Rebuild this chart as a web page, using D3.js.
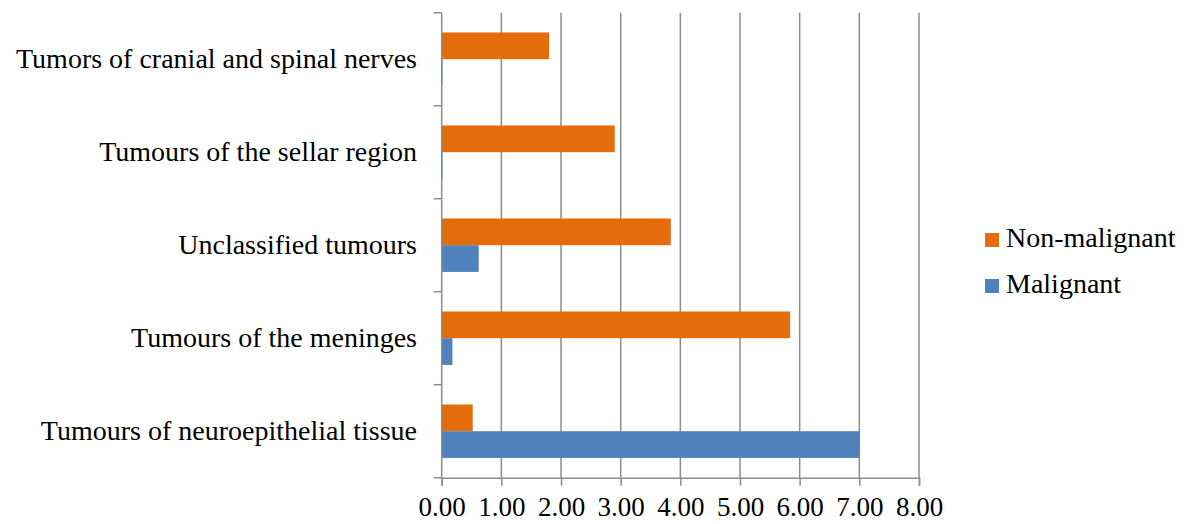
<!DOCTYPE html>
<html><head><meta charset="utf-8">
<script src="https://cdn.jsdelivr.net/npm/d3@7"></script>
<style>body{margin:0;background:#fff}svg{display:block}text{font-family:"Liberation Serif",serif;fill:#000}</style>
</head><body><svg id="c" width="1190" height="524"></svg>
<script>
const categories = ["Tumors of cranial and spinal nerves","Tumours of the sellar region","Unclassified tumours","Tumours of the meninges","Tumours of neuroepithelial tissue"];
const series = ["Non-malignant","Malignant"];
const nonMalignant = [1.80, 2.90, 3.84, 5.84, 0.52];
const malignant = [0.01, 0.01, 0.62, 0.18, 7.00];
const xTicks = [0,1,2,3,4,5,6,7,8];
const colors = {"Non-malignant":"#E46C0A","Malignant":"#4F81BD"};

const svg = d3.select("#c");
const m = {left:441.7, right:919, top:12.7, bottom:477.7};
const x = d3.scaleLinear().domain([0,8]).range([m.left, m.right]);
const y = d3.scaleBand().domain(categories).range([m.top, m.bottom]).padding(0);
const ys = d3.scaleBand().domain(series).range([0, y.bandwidth()]).paddingInner(0).paddingOuter(0.74);
const gridColor = "#8c8c8c";

svg.append("g").selectAll("line").data(xTicks.slice(1)).join("line")
  .attr("x1",d=>x(d)).attr("x2",d=>x(d)).attr("y1",m.top).attr("y2",m.bottom)
  .attr("stroke",gridColor).attr("stroke-width",1.5);

const data = categories.map((c,i)=>({c, "Non-malignant":nonMalignant[i], "Malignant":malignant[i]}));
const g = svg.append("g");
data.forEach(d=>{
  series.forEach(s=>{
    g.append("rect").attr("x",x(0)).attr("y",y(d.c)+ys(s))
      .attr("width",Math.max(0.8,x(d[s])-x(0))).attr("height",ys.bandwidth())
      .attr("fill",colors[s]);
  });
});

const xa = svg.append("g").attr("transform",`translate(0,${m.bottom})`)
  .call(d3.axisBottom(x).tickValues(xTicks).tickFormat(d3.format(".2f")).tickSizeOuter(0).tickSize(8).tickPadding(11));
xa.select(".domain").attr("stroke",gridColor).attr("stroke-width",1.5);
xa.selectAll(".tick line").attr("stroke",gridColor).attr("stroke-width",1.5);
xa.selectAll("text").attr("font-size",27).attr("font-family","Liberation Serif").attr("fill","#000");

const yTickPos = categories.map(c=>y(c)).concat([m.bottom]);
svg.append("line").attr("x1",x(0)).attr("x2",x(0)).attr("y1",m.top).attr("y2",m.bottom).attr("stroke",gridColor).attr("stroke-width",1.5);
svg.append("g").selectAll("line").data(yTickPos).join("line")
  .attr("x1",x(0)-8).attr("x2",x(0)).attr("y1",d=>d).attr("y2",d=>d).attr("stroke",gridColor).attr("stroke-width",1.5);
svg.append("g").selectAll("text").data(categories).join("text")
  .attr("x",417).attr("y",d=>y(d)+y.bandwidth()/2).attr("dy","0.3em")
  .attr("text-anchor","end").attr("font-size",28).text(d=>d);

const lg = svg.append("g");
series.forEach((s,i)=>{
  const ly = 240 + i*46;
  lg.append("rect").attr("x",985).attr("y",ly-7).attr("width",14).attr("height",14).attr("fill",colors[s]);
  lg.append("text").attr("x",1006).attr("y",ly).attr("dy","0.26em").attr("font-size",28).text(s);
});
</script></body></html>
